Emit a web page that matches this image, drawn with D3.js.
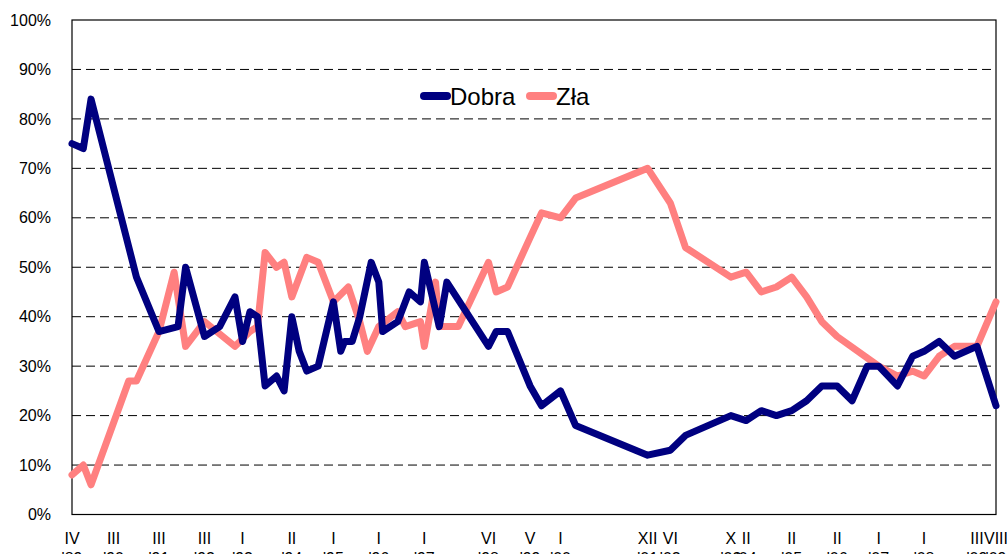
<!DOCTYPE html>
<html lang="pl">
<head>
  <meta charset="UTF-8">
  <title>Dobra / Zła</title>
  <script src="https://d3js.org/d3.v7.min.js"></script>
  <style>
    body { margin: 0; background: #fff; }
    svg { display: block; font-family: "Liberation Sans", Arial, sans-serif; }
  </style>
</head>
<body>
  <svg id="chart" width="1007" height="554"></svg>

  <script>
    // Survey dates and shares (%)
    const dobraDates = ["1989-04","1989-07","1989-09","1990-09","1991-03","1991-08","1991-10","1992-03","1992-07","1992-11",
      "1993-01","1993-03","1993-05","1993-07","1993-10","1993-12","1994-02","1994-04","1994-06","1994-09",
      "1995-01","1995-03","1995-04","1995-06","1995-08","1995-11","1996-01","1996-02","1996-06","1996-09",
      "1996-12","1997-01","1997-05","1997-07","1998-06","1998-08","1998-11","1999-05","1999-08","2000-01",
      "2000-05","2001-12","2002-06","2002-10","2003-10","2004-02","2004-06","2004-10","2005-02","2005-06",
      "2005-10","2006-02","2006-06","2006-10","2007-01","2007-06","2007-10","2008-01","2008-05","2008-09",
      "2009-03","2009-08"];
    const dobraValues = [75,74,84,48,37,38,50,36,38,44,
      35,41,40,26,28,25,40,33,29,30,
      43,33,35,35,40,51,47,37,39,45,
      43,51,38,47,34,37,37,26,22,25,
      18,12,13,16,20,19,21,20,21,23,
      26,26,23,30,30,26,32,33,35,32,
      34,22];

    const zlaDates = ["1989-04","1989-07","1989-09","1990-07","1990-09","1991-03","1991-07","1991-10","1992-03","1992-11",
      "1993-03","1993-05","1993-07","1993-10","1993-12","1994-02","1994-06","1994-09","1995-01","1995-05",
      "1995-08","1995-10","1996-01","1996-06","1996-08","1996-12","1997-01","1997-04","1997-05","1997-10",
      "1998-06","1998-08","1998-11","1999-05","1999-08","2000-01","2000-05","2001-12","2002-06","2002-10",
      "2003-10","2004-02","2004-06","2004-10","2005-02","2005-06","2005-10","2006-02","2007-01","2007-06",
      "2007-10","2008-01","2008-05","2008-09","2009-03","2009-08"];
    const zlaValues = [8,10,6,27,27,37,49,34,39,34,
      37,38,53,50,51,44,52,51,43,46,
      39,33,38,41,38,39,34,47,38,38,
      51,45,46,56,61,60,64,70,63,54,
      48,49,45,46,48,44,39,36,30,28,
      29,28,32,34,34,43];

    // Axis labels
    const tickDates = ["1989-04","1990-03","1991-03","1992-03","1993-01","1994-02","1995-01","1996-01","1997-01","1998-06",
      "1999-05","2000-01","2001-12","2002-06","2003-10","2004-02","2005-02","2006-02","2007-01","2008-01",
      "2009-03","2009-08"];
    const tickMonths = ["IV","III","III","III","I","II","I","I","I","VI",
      "V","I","XII","VI","X","II","II","II","I","I",
      "III","VIII"];
    const tickYears = ["'89","'90","'91","'92","'93","'94","'95","'96","'97","'98",
      "'99","'00","'01","'02","'03","'04","'05","'06","'07","'08",
      "'09","'09"];
    const yTicks = [0,10,20,30,40,50,60,70,80,90,100];

    const parse = d3.timeParse("%Y-%m");
    const dobra = dobraDates.map((d, i) => ({ date: parse(d), value: dobraValues[i] }));
    const zla = zlaDates.map((d, i) => ({ date: parse(d), value: zlaValues[i] }));

    const plotLeft = 72, plotRight = 996, plotTop = 20, plotBottom = 514.5;

    const svg = d3.select("#chart");

    const x = d3.scaleTime()
      .domain([parse("1989-04"), parse("2009-08")])
      .range([plotLeft, plotRight]);
    const y = d3.scaleLinear()
      .domain([0, 100])
      .range([plotBottom, plotTop]);

    // Grid lines
    svg.append("g")
      .selectAll("line")
      .data(yTicks.filter(t => t > 0 && t < 100))
      .enter()
      .append("line")
      .attr("x1", plotLeft)
      .attr("x2", plotRight)
      .attr("y1", d => y(d))
      .attr("y2", d => y(d))
      .attr("stroke", "#000")
      .attr("stroke-width", 1)
      .attr("stroke-dasharray", "9,5");

    // Plot frame
    svg.append("rect")
      .attr("x", plotLeft)
      .attr("y", plotTop)
      .attr("width", plotRight - plotLeft)
      .attr("height", plotBottom - plotTop)
      .attr("fill", "none")
      .attr("stroke", "#000")
      .attr("stroke-width", 1.2);

    // Y labels
    svg.append("g")
      .selectAll("text")
      .data(yTicks)
      .enter()
      .append("text")
      .attr("x", 51)
      .attr("y", d => y(d))
      .attr("dy", "0.35em")
      .attr("text-anchor", "end")
      .style("font-size", "16px")
      .text(d => d + "%");

    // X labels (two lines, second line cut by the page edge)
    const xl = svg.append("g")
      .selectAll("g")
      .data(tickDates)
      .enter()
      .append("g")
      .attr("transform", d => `translate(${x(parse(d))},0)`);
    xl.append("text")
      .attr("y", 544)
      .attr("text-anchor", "middle")
      .style("font-size", "16px")
      .text((d, i) => tickMonths[i]);
    xl.append("text")
      .attr("y", 564)
      .attr("text-anchor", "middle")
      .style("font-size", "16px")
      .text((d, i) => tickYears[i]);

    // Lines
    const line = d3.line()
      .x(d => x(d.date))
      .y(d => y(d.value));

    svg.append("path")
      .datum(zla)
      .attr("d", line)
      .attr("fill", "none")
      .attr("stroke", "#FF8080")
      .attr("stroke-width", 7)
      .attr("stroke-linejoin", "round")
      .attr("stroke-linecap", "round");

    svg.append("path")
      .datum(dobra)
      .attr("d", line)
      .attr("fill", "none")
      .attr("stroke", "#000080")
      .attr("stroke-width", 7)
      .attr("stroke-linejoin", "round")
      .attr("stroke-linecap", "round");

    // Legend
    const legend = [
      { name: "Dobra", color: "#000080", x: 424 },
      { name: "Zła", color: "#FF8080", x: 530 }
    ];
    const lg = svg.append("g")
      .selectAll("g")
      .data(legend)
      .enter()
      .append("g")
      .attr("transform", d => `translate(${d.x},96)`);
    lg.append("line")
      .attr("x1", 0)
      .attr("x2", 23)
      .attr("stroke", d => d.color)
      .attr("stroke-width", 8)
      .attr("stroke-linecap", "round");
    lg.append("text")
      .attr("x", 26)
      .attr("y", 9)
      .style("font-size", "24px")
      .text(d => d.name);
  </script>
</body>
</html>
